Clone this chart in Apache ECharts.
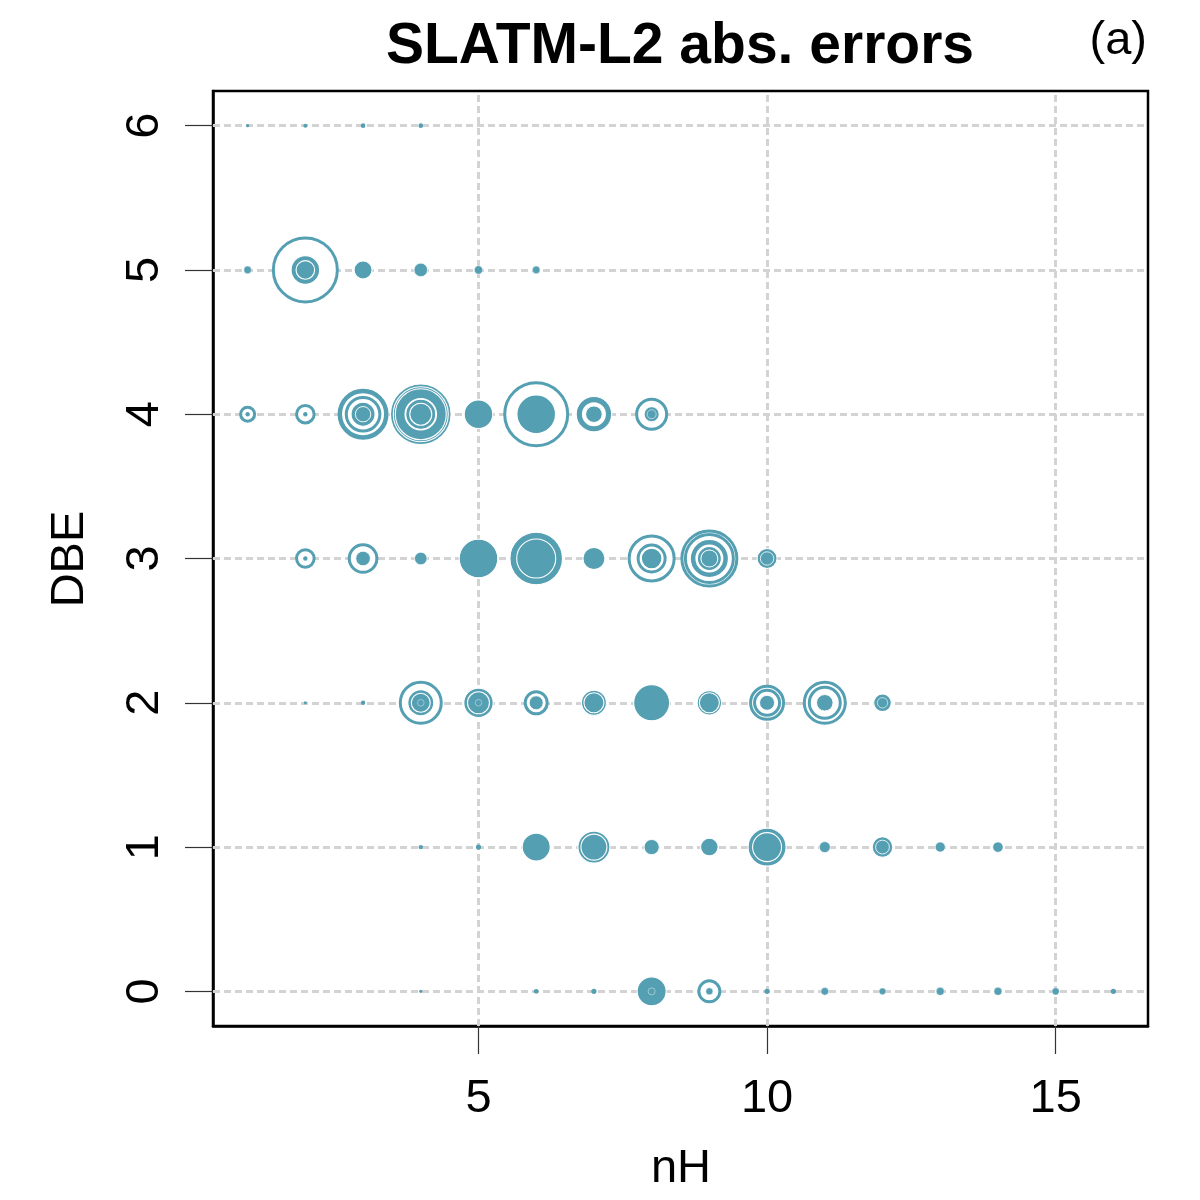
<!DOCTYPE html>
<html>
<head>
<meta charset="utf-8">
<script src="https://cdn.jsdelivr.net/npm/echarts@6/dist/echarts.min.js"></script>
<style>
html,body{margin:0;padding:0;background:#fff;}
#chart{width:1200px;height:1200px;}
</style>
</head>
<body>
<div id="chart"></div>
<script>
// Signed errors per (nH, DBE) cell: positive = filled circle, negative = open circle.
// Circle radius is proportional to |error|.
const xTicks = [5, 10, 15];
const yTicks = [0, 1, 2, 3, 4, 5, 6];
const rowDBE0 = [[4,[0.16]],[6,[0.24]],[7,[0.26]],[8,[1.45,0.35]],[9,[-1.05,0.35]],[10,[0.26]],[11,[0.38]],[12,[0.34]],[13,[0.40]],[14,[0.40]],[15,[0.36]],[16,[0.26]]];
const rowDBE1 = [[4,[0.22]],[5,[0.26]],[6,[1.40]],[7,[1.60,1.30]],[8,[0.76]],[9,[0.88]],[10,[1.90,1.45]],[11,[0.55]],[12,[1.03,0.69]],[13,[0.50]],[14,[0.52]]];
const rowDBE2 = [[2,[0.16]],[3,[0.22]],[4,[-2.05,1.30,0.95,0.33]],[5,[1.47,1.10,0.33]],[6,[-1.10,0.70]],[7,[1.25,1.00]],[8,[1.80]],[9,[1.22,1.00]],[10,[-1.65,-1.25,0.75]],[11,[-2.05,-1.55,0.83]],[12,[0.88,0.52]]];
const rowDBE3 = [[2,[-0.88,0.22]],[3,[-1.38,0.73]],[4,[0.63]],[5,[1.93]],[6,[2.63,1.95]],[7,[1.10]],[8,[-2.25,-1.35,1.03]],[9,[-2.75,-2.40,-1.70,-1.55,1.20,0.85]],[10,[1.00,0.67]]];
const rowDBE4 = [[1,[-0.70,0.22]],[2,[-0.88,0.22]],[3,[-2.40,-2.25,-1.68,1.20,0.77]],[4,[3.03,2.75,2.55,-1.78,1.50,1.10]],[5,[1.43]],[6,[-3.15,1.93]],[7,[1.77,-1.35,0.83]],[8,[-1.50,0.75,0.45]]];
const rowDBE5 = [[1,[0.38]],[2,[-3.20,1.43,0.93]],[3,[0.90]],[4,[0.68]],[5,[0.42]],[6,[0.38]]];
const rowDBE6 = [[1,[0.16]],[2,[0.20]],[3,[0.23]],[4,[0.23]]];
const rows = [rowDBE0,rowDBE1,rowDBE2,rowDBE3,rowDBE4,rowDBE5,rowDBE6];

const TEAL = '#559fb3';
const PX_PER_UNIT = 10; // radius in px per error unit

const circles = [];
rows.forEach((row, dbe) => {
  row.forEach(([nh, errs]) => {
    errs.forEach(e => circles.push([nh, dbe, e]));
  });
});
circles.sort((a, b) => Math.abs(b[2]) - Math.abs(a[2]));

const scatterData = circles.map(c => {
  const r = Math.abs(c[2]) * PX_PER_UNIT;
  const filled = c[2] > 0;
  return {
    value: c,
    itemStyle: filled
      ? { color: TEAL, opacity: 1, borderColor: '#ffffff', borderWidth: r < 3 ? 0 : Math.min(1.1, r * 0.12) }
      : { color: '#ffffff', opacity: 1, borderColor: TEAL, borderWidth: 3 }
  };
});

const FONT = 'Liberation Sans, Arial, Helvetica, sans-serif';
const chart = echarts.init(document.getElementById('chart'), null, {renderer: 'canvas'});
const gridStyle = { color: '#d3d3d3', width: 3, type: [7, 4], opacity: 1 };

chart.setOption({
  animation: false,
  backgroundColor: '#ffffff',
  grid: { left: 213, top: 91, width: 935, height: 935, show: true, borderColor: '#000', borderWidth: 2.5, containLabel: false },
  xAxis: {
    type: 'value', min: 0.4, max: 16.6,
    axisLine: { show: true, onZero: false, lineStyle: { color: '#000', width: 2.5 } },
    axisTick: { show: true, customValues: xTicks, length: 28, lineStyle: { color: '#333', width: 1.2 } },
    axisLabel: { show: true, customValues: xTicks, fontSize: 47, color: '#000', fontFamily: FONT, margin: 50 },
    splitLine: { show: false }
  },
  yAxis: {
    type: 'value', min: -0.24, max: 6.24,
    axisLine: { show: true, onZero: false, lineStyle: { color: '#000', width: 2.5 } },
    axisTick: { show: true, customValues: yTicks, length: 28, lineStyle: { color: '#333', width: 1.2 } },
    axisLabel: { show: true, customValues: yTicks, fontSize: 47, color: '#000', fontFamily: FONT, rotate: 90, margin: 44 },
    splitLine: { show: false }
  },
  series: [
    {
      type: 'scatter', data: [], z: 1, zlevel: 0, silent: true,
      markLine: {
        silent: true, symbol: ['none', 'none'], label: { show: false }, z: 1,
        lineStyle: gridStyle, emphasis: { disabled: true },
        data: xTicks.map(v => ({ xAxis: v })).concat(yTicks.map(v => ({ yAxis: v })))
      }
    },
    {
      type: 'scatter', z: 5, silent: true,
      emphasis: { disabled: true },
      symbol: 'circle',
      symbolSize: v => Math.abs(v[2]) * PX_PER_UNIT * 2,
      itemStyle: { opacity: 1 },
      data: scatterData
    }
  ],
  graphic: [
    { type: 'text', x: 680, y: 47, style: { text: 'SLATM-L2 abs. errors', font: 'bold 57px ' + FONT, fill: '#000', textAlign: 'center', textVerticalAlign: 'middle' } },
    { type: 'text', x: 1147, y: 41, style: { text: '(a)', font: '47px ' + FONT, fill: '#000', textAlign: 'right', textVerticalAlign: 'middle' } },
    { type: 'text', x: 681, y: 1169, style: { text: 'nH', font: '47px ' + FONT, fill: '#000', textAlign: 'center', textVerticalAlign: 'middle' } },
    { type: 'text', x: 70, y: 559, rotation: Math.PI / 2, style: { text: 'DBE', font: '47px ' + FONT, fill: '#000', textAlign: 'center', textVerticalAlign: 'middle' } }
  ]
});
</script>
</body>
</html>
